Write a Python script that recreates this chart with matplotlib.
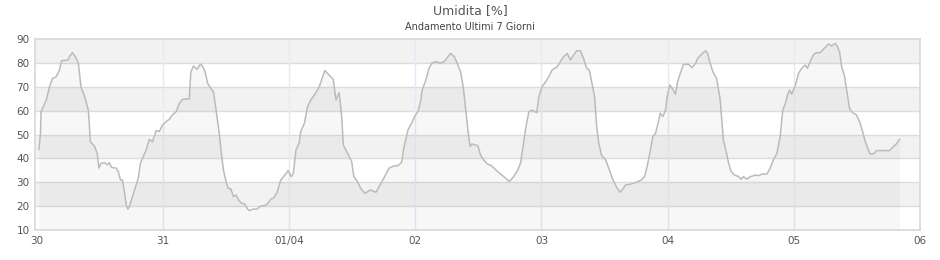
import matplotlib
matplotlib.use('Agg')
import matplotlib.pyplot as plt
import numpy as np

# ore dall'inizio del 30 (lettura dal grafico) e umidita [%]
ore = [0.4, 0.7, 0.8, 1.8, 2.4, 3.0, 3.7, 4.3, 4.7, 5.9, 6.2, 6.8, 7.5, 7.9,
       8.4, 9.1, 9.8, 10.2, 11.0, 11.5, 11.8, 12.2, 12.9, 13.4, 13.8, 14.2,
       15.1, 15.5, 15.9, 16.3, 16.7, 17.0, 17.3, 17.6, 18.2, 18.9, 19.3, 19.7,
       20.1, 20.8, 21.4, 22.0, 22.7, 23.3, 23.9, 24.6, 25.2, 25.8, 26.5, 27.1,
       27.7, 28.4, 29.0, 29.3, 29.8, 30.5, 31.1, 31.5, 32.0, 32.5, 33.1, 33.6,
       34.1, 34.7, 35.1, 35.5, 36.0, 36.4, 36.9, 37.4, 37.9, 38.3, 38.9, 39.5,
       40.0, 40.4, 41.0, 41.9, 42.5, 43.4, 43.9, 44.5, 45.0, 45.7, 46.4, 47.2,
       47.8, 48.4, 48.8, 49.3, 49.9, 50.2, 50.9, 51.5, 52.1, 52.8, 53.7,
       54.8, 55.6, 56.4, 56.9, 57.5, 58.0, 58.3, 59.1, 59.9, 60.3, 61.0, 61.6,
       62.4, 63.5, 64.5, 65.3, 66.0, 67.0, 67.9, 68.7, 69.4, 69.8, 70.6, 71.3,
       71.9, 72.5, 73.0, 73.3, 74.0, 74.6, 75.2, 76.1, 76.7, 77.6, 78.1, 78.7,
       79.5, 80.1, 80.6, 81.1, 81.6, 82.0, 82.4, 82.8, 83.3, 83.9, 84.4, 85.0,
       85.7, 86.5, 87.3, 88.2, 89.2, 89.9, 90.7, 91.5, 92.0, 92.5, 93.0, 93.6,
       94.2, 95.1, 95.5, 96.1, 96.8, 97.4, 98.0, 99.0, 99.6, 100.2, 100.9,
       101.5, 102.0, 102.7, 103.4, 104.0, 104.6, 105.1, 105.6, 106.1, 106.5,
       106.9, 107.4, 108.2, 108.8, 109.6, 110.4, 111.0, 112.0, 112.9, 113.9,
       115.0, 115.6, 116.1, 116.6, 117.2, 117.7, 118.1, 118.6, 119.1, 119.6,
       119.9, 120.4, 121.0, 121.5, 121.9, 122.4, 123.0, 124.0, 124.6, 125.3,
       125.7, 126.5, 127.2, 127.6, 128.0, 128.6, 129.3, 129.7, 130.0, 130.3,
       130.6, 131.2, 131.6, 132.1, 132.7, 133.5, 134.0, 134.4, 135.1, 135.7,
       136.3, 136.7, 137.3, 137.9, 138.9, 139.5, 140.1, 140.8, 141.4, 141.9,
       142.4, 142.8, 143.2, 143.6, 144.3, 144.9, 145.5, 146.2, 146.6, 147.1,
       147.7, 148.3, 149.0, 149.8, 150.6, 151.2, 151.9, 152.3, 152.7, 153.1,
       153.6, 154.1, 154.6, 155.2, 155.9, 156.5, 156.9, 157.6, 158.0, 158.5,
       159.1, 159.8, 160.7, 162.2, 162.8, 163.5, 164.1]
umidita = [43.8, 50.6, 59.6, 64.5, 70.0, 73.6, 74.3, 77.0, 81.0, 81.3, 82.7, 84.4, 82.0, 80.0,
           70.0, 66.0, 60.3, 47.0, 45.0, 42.0, 36.0, 38.0, 38.3, 37.3, 38.3, 36.2,
           36.0, 34.5, 31.0, 31.0, 25.4, 20.5, 18.8, 19.8, 24.0, 29.0, 31.7, 38.0,
           40.0, 43.6, 48.0, 47.0, 51.7, 51.3, 54.0, 55.5, 56.4, 58.3, 59.6, 63.0,
           64.8, 65.0, 65.0, 76.4, 78.8, 77.4, 79.6, 78.8, 76.4, 71.5, 69.4, 68.0,
           60.3, 50.6, 42.2, 35.2, 30.3, 27.5, 27.2, 24.0, 24.7, 22.9, 21.2, 21.0,
           19.1, 18.1, 18.7, 18.8, 20.0, 20.2, 21.0, 22.9, 23.3, 25.7, 31.0, 33.1,
           34.9, 32.4, 33.8, 43.6, 46.4, 51.3, 54.8, 61.7, 64.5, 66.6, 69.9,
           76.9, 75.0, 73.2, 64.5, 67.6, 57.6, 45.7, 42.2, 38.7, 32.4, 30.3, 27.5,
           25.4, 26.8, 25.8, 28.9, 31.7, 35.9, 36.9, 37.0, 38.4, 44.3, 52.0, 54.8,
           57.8, 59.6, 63.8, 68.7, 72.9, 77.8, 80.2, 80.6, 79.9, 80.9, 82.4, 84.1,
           82.4, 79.2, 76.4, 70.1, 60.3, 52.0, 45.0, 46.1, 45.7, 45.4, 41.5, 39.4,
           37.7, 37.0, 35.2, 33.5, 31.7, 30.3, 32.4, 35.2, 38.0, 45.0, 52.7, 59.6,
           60.3, 59.2, 65.9, 70.1, 72.2, 74.3, 77.1, 78.5, 80.6, 82.7, 84.1,
           81.3, 83.0, 85.2, 85.2, 82.0, 77.8, 77.1, 71.5, 65.9, 53.4,
           46.4, 41.5, 39.4, 35.9, 31.0, 27.5, 25.8, 28.9, 29.2, 29.9,
           31.0, 32.4, 36.6, 42.2, 49.2, 50.6, 54.1, 59.0, 57.6, 60.3,
           65.9, 70.8, 69.0, 66.9, 72.2, 75.7, 79.5, 79.5, 78.1, 79.9,
           82.0, 83.8, 85.2, 84.1, 80.6, 76.4, 73.6, 68.7, 64.5, 56.2,
           47.8, 42.2, 38.0, 34.5, 33.1, 32.4, 31.3, 32.4, 31.3, 32.4,
           32.7, 33.1, 32.8, 33.4, 33.5, 35.9, 39.4, 42.2, 49.2, 60.3,
           63.1, 66.6, 68.7, 67.0, 70.8, 75.7, 77.8, 79.2, 77.8, 80.6,
           83.4, 84.4, 84.4, 86.2, 88.0, 87.2, 88.3, 86.9, 84.8, 78.5,
           75.0, 68.0, 61.0, 59.2, 58.3, 55.5, 52.7, 47.1, 44.7, 41.9,
           41.9, 43.3, 43.3, 43.3, 44.7, 46.1, 48.0]

giorni_pos = [0, 24, 48, 72, 96, 120, 144, 168]
giorni_lab = ['30', '31', '01/04', '02', '03', '04', '05', '06']

fig = plt.figure(figsize=(9.4, 2.6), dpi=100)
ax = fig.add_axes([0.0375, 0.1154, 0.9412, 0.7335])

# bande orizzontali alternate
for y0 in range(20, 90, 20):
    ax.axhspan(y0, y0 + 10, color='#f2f2f2', zorder=0, lw=0)
for y in range(20, 90, 10):
    ax.axhline(y, color='#dddddd', lw=1, zorder=1)
for xg in giorni_pos[1:-1]:
    ax.axvline(xg, color='#e8e8f8', lw=1, zorder=1)

ax.fill_between(ore, umidita, 10, color='black', alpha=0.03, lw=0, zorder=2)
ax.plot(ore, umidita, color='#bbbbbb', lw=1.1, zorder=3)

ax.set_xlim(-0.3, 168)
ax.set_ylim(10, 90)
ax.set_yticks(range(10, 91, 10))
ax.set_xticks(giorni_pos)
ax.set_xticklabels(giorni_lab)
ax.tick_params(length=0, labelsize=7.5, colors='#555555', pad=4)
for s in ax.spines.values():
    s.set_color('#d8d8d8')
    s.set_linewidth(1.2)

fig.text(0.5, 0.96, 'Umidita [%]', ha='center', va='center', fontsize=9, color='#555555')
fig.text(0.5, 0.895, 'Andamento Ultimi 7 Giorni', ha='center', va='center', fontsize=7, color='#444444')

fig.savefig('out.png', dpi=100)
